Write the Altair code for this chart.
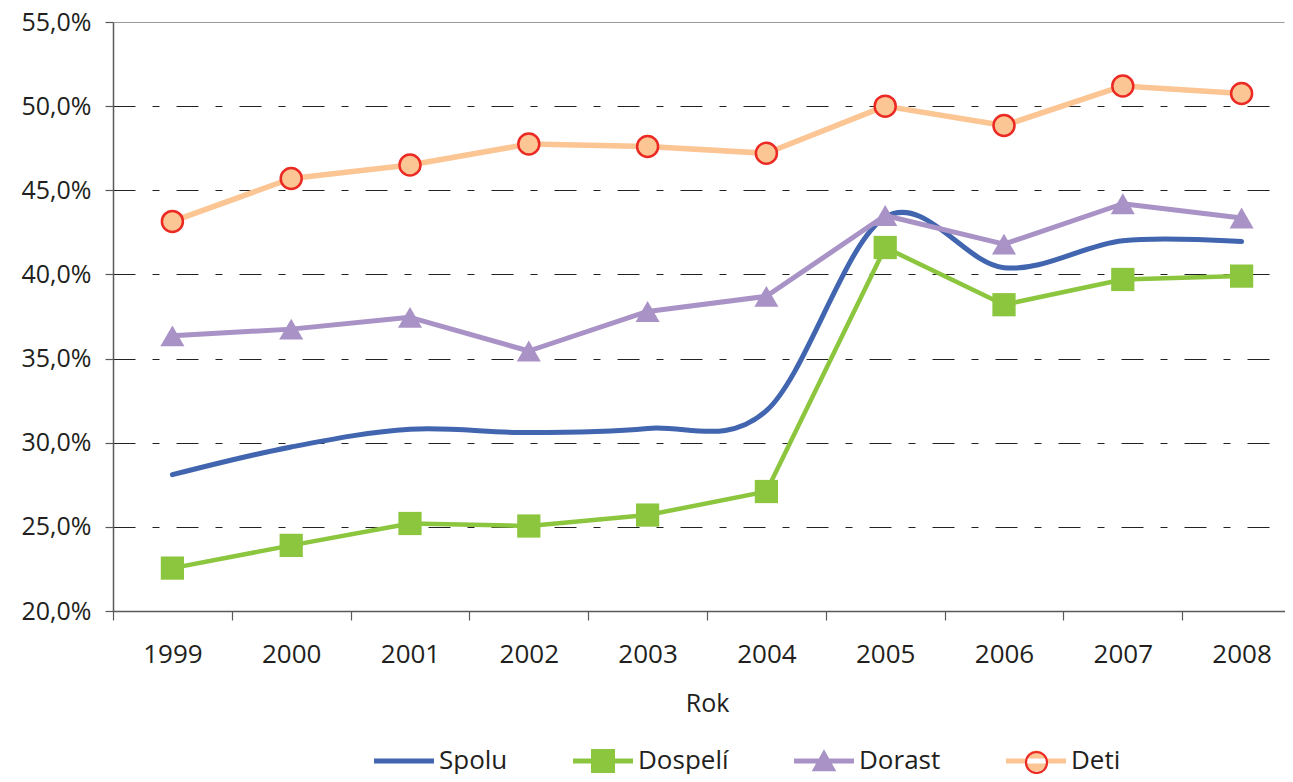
import altair as alt
import pandas as pd

years = [1999, 2000, 2001, 2002, 2003, 2004, 2005, 2006, 2007, 2008]
series_names = ["Spolu", "Dospelí", "Dorast", "Deti"]
spolu = [28.1, 29.75, 30.8, 30.6, 30.85, 31.9, 43.4, 40.4, 42.0, 41.95]
dospeli = [22.55, 23.9, 25.2, 25.05, 25.7, 27.1, 41.6, 38.2, 39.7, 39.9]
dorast = [36.35, 36.75, 37.45, 35.45, 37.8, 38.7, 43.5, 41.8, 44.2, 43.35]
deti = [43.15, 45.7, 46.5, 47.75, 47.6, 47.2, 50.0, 48.85, 51.2, 50.75]
y_ticks = [0.20, 0.25, 0.30, 0.35, 0.40, 0.45, 0.50, 0.55]

rows = []
for name, vals in zip(series_names, [spolu, dospeli, dorast, deti]):
    for yr, v in zip(years, vals):
        rows.append({"year": str(yr), "series": name, "lg": name, "lr": name, "value": v / 100})
df = pd.DataFrame(rows)

FONT = "Open Sans"
TXT = "#231F20"
AX = "#5A5A5A"
C_SPOLU = "#4265AF"
C_DOSP = "#8CC63F"
C_DOR = "#A992C6"
C_DETI = "#FCC594"
C_RED = "#EC2A24"

x_enc = alt.X(
    "year:O",
    bandPosition=0.5,
    scale=alt.Scale(type="band", paddingInner=0, paddingOuter=0, range=[0, 1188]),
    axis=alt.Axis(
        title="Rok", titleFont=FONT, titleFontSize=25, titleFontWeight="normal",
        titleColor=TXT, titlePadding=24,
        labelAngle=0, labelFont=FONT, labelFontSize=26, labelColor=TXT, labelPadding=21,
        tickBand="extent", tickSize=9, tickColor=AX, tickWidth=1.2,
        domainColor=AX, domainWidth=1.5, grid=False,
    ),
)
y_enc = alt.Y(
    "value:Q",
    scale=alt.Scale(domain=[0.20, 0.55], nice=False, zero=False),
    axis=alt.Axis(
        title=None, values=y_ticks,
        labelExpr="replace(format(datum.value, '.1%'), '.', ',')",
        labelFont=FONT, labelFontSize=25, labelColor=TXT, labelPadding=14,
        tickSize=8, tickColor=AX, tickWidth=1.2,
        domainColor=AX, domainWidth=1.5,
        grid=True, gridWidth=1.2,
        gridColor={"condition": {"test": "datum.value >= 0.549", "value": "#9A9A9A"}, "value": "#222222"},
        gridDash={"condition": {"test": "datum.value >= 0.549", "value": [1, 0]}, "value": [22, 17, 7, 17]},
    ),
)

color_scale = alt.Scale(domain=series_names, range=[C_SPOLU, C_DOSP, C_DOR, C_DETI])
base = alt.Chart(df)


def line_layer(name, width, interp="linear"):
    kw = {}
    if interp == "cardinal":
        kw["tension"] = 0
    return base.transform_filter(alt.datum.series == name).mark_line(
        strokeWidth=width, interpolate=interp, strokeCap="round", strokeJoin="round", **kw
    ).encode(x=x_enc, y=y_enc, color=alt.Color("series:N", scale=color_scale, legend=None))


def point_layer(name, shape, size, fill, stroke=None, sw=0):
    props = dict(shape=shape, size=size, filled=True, fill=fill, opacity=1, fillOpacity=1)
    if stroke:
        props.update(stroke=stroke, strokeWidth=sw)
    else:
        props.update(strokeWidth=0)
    return base.transform_filter(alt.datum.series == name).mark_point(**props).encode(x=x_enc, y=y_enc)


# legend symbol paths (1 unit = sqrt(symbolSize)/2 px = 15 px)
LINE_P = "M-2,-0.17L2,-0.17L2,0.17L-2,0.17Z"
SQ_P = "M-0.8,-0.8L0.8,-0.8L0.8,0.8L-0.8,0.8Z"
TRI_P = "M0,-0.78L0.82,0.68L-0.82,0.68Z"
CIR_P = "M-0.7,0A0.7,0.7 0 1,0 0.7,0A0.7,0.7 0 1,0 -0.7,0Z"
legend_paths = [LINE_P, LINE_P + SQ_P, LINE_P + TRI_P, CIR_P + LINE_P]

LEG_Y = 724

leg_a = alt.Legend(
    orient="none", legendX=276, legendY=LEG_Y, direction="horizontal", columns=4,
    title=None, symbolSize=900, labelFont=FONT, labelFontSize=26, labelColor=TXT,
    labelOffset=20, columnPadding=65, padding=0, symbolStrokeWidth=0, symbolOpacity=1,
)
leg_b = alt.Legend(
    orient="none", legendX=907, legendY=LEG_Y, direction="horizontal",
    title=None, symbolSize=900, labelExpr="''", labelFont=FONT, labelFontSize=26,
    padding=0, symbolStrokeWidth=2.2, symbolOpacity=1, symbolFillColor="rgba(0,0,0,0)",
)

legend_a = base.transform_filter("false").mark_point(filled=True, strokeWidth=0).encode(
    x=x_enc, y=y_enc,
    shape=alt.Shape("lg:N", scale=alt.Scale(domain=series_names, range=legend_paths), legend=leg_a),
    fill=alt.Fill("lg:N", scale=alt.Scale(domain=series_names, range=[C_SPOLU, C_DOSP, C_DOR, C_DETI]), legend=leg_a),
)
legend_b = base.transform_filter("false").mark_point(filled=False, strokeWidth=2.2).encode(
    x=x_enc, y=y_enc,
    shape=alt.Shape("lr:N", scale=alt.Scale(domain=["Deti"], range=[CIR_P]), legend=leg_b),
    stroke=alt.Stroke("lr:N", scale=alt.Scale(domain=["Deti"], range=[C_RED]), legend=leg_b),
)

chart = alt.layer(
    line_layer("Spolu", 5, "cardinal"),
    line_layer("Dospelí", 4.5),
    point_layer("Dospelí", "square", 540, C_DOSP),
    line_layer("Dorast", 5),
    point_layer("Dorast", "triangle-up", 580, C_DOR),
    line_layer("Deti", 5.5),
    point_layer("Deti", "circle", 441, C_DETI, C_RED, 2.5),
    legend_a,
    legend_b,
).resolve_scale(
    shape="independent", fill="independent", stroke="independent"
).properties(
    width=1172, height=589,
    autosize=alt.AutoSizeParams(type="none"),
    padding={"left": 105, "top": 14, "right": 0, "bottom": 163},
).configure_view(stroke=None)

chart.save("out.html", embed_options={"renderer": "svg", "actions": False})
